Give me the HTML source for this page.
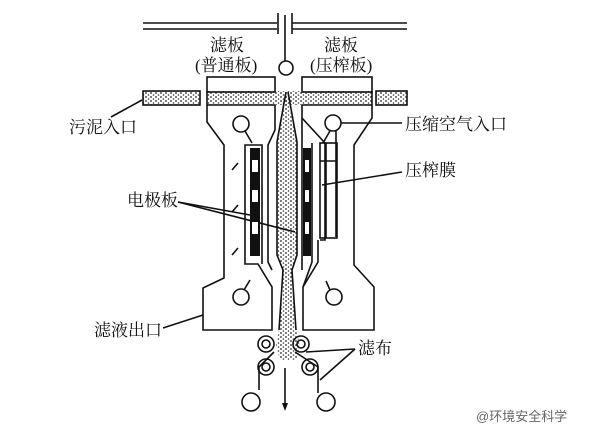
<!DOCTYPE html><html><head><meta charset="utf-8"><style>
body{margin:0;background:#fff}
svg{display:block}
text{font-family:"Liberation Serif","Noto Serif CJK SC",serif;font-size:17px;fill:#111}
</style></head><body>
<svg width="600" height="436" viewBox="0 0 600 436" xmlns="http://www.w3.org/2000/svg">
<defs>
<pattern id="dots" width="5" height="4" patternUnits="userSpaceOnUse">
<circle cx="1" cy="1" r="0.9" fill="#222"/><circle cx="3.5" cy="3" r="0.8" fill="#333"/>
</pattern>
</defs>
<g stroke="#111" stroke-width="1.6" fill="none">
<line x1="143" y1="23" x2="277" y2="23"/><line x1="143" y1="29" x2="277" y2="29"/>
<line x1="292" y1="23" x2="407" y2="23"/><line x1="292" y1="29" x2="407" y2="29"/>
<line x1="278" y1="13" x2="278" y2="34"/><line x1="292" y1="13" x2="292" y2="34"/>
<line x1="285" y1="15" x2="285" y2="61"/>
<circle cx="286" cy="68" r="7"/>
<rect x="207" y="77" width="68" height="15"/>
<rect x="302" y="77" width="70" height="15"/>
<rect x="143" y="91" width="57" height="14" fill="url(#dots)"/>
<rect x="376" y="91" width="31" height="14" fill="url(#dots)"/>
<rect x="207" y="91" width="165" height="14" fill="url(#dots)" stroke="none"/>
<line x1="207" y1="91" x2="207" y2="105"/><line x1="372" y1="91" x2="372" y2="105"/>
<path d="M286 92 L277 142 L277 255 L283 270 L279 330 L276 345 L280 360 L297 360 L300 345 L296 330 L292 270 L297 255 L297 142 Z" fill="url(#dots)" stroke="none"/>
<path d="M286 92 L277 142 L277 255 L283 270 L279 330" />
<path d="M288 92 L297 142 L297 255 L292 270 L296 330" />
<path d="M207 105 L207 122 L224 145 L224 278 L203 288 L203 330 L272 330 L272 287 L258 264 L245 264 L245 145 L262 145 L262 264"/>
<path d="M275 105 L275 130 L268 145 L268 262 L272 270"/>
<line x1="207" y1="105" x2="275" y2="105"/>
<circle cx="241" cy="124" r="8"/><line x1="245" y1="131" x2="252" y2="143"/>
<circle cx="241" cy="297" r="8"/><line x1="244" y1="290" x2="250" y2="280"/>
<line x1="232" y1="170" x2="238" y2="163"/><line x1="232" y1="212" x2="238" y2="205"/><line x1="232" y1="255" x2="238" y2="248"/>
<line x1="302" y1="105" x2="372" y2="105"/>
<path d="M302 105 L302 118 L325 143 L325 240 L320 240"/>
<path d="M372 105 L372 118 L354 145 L354 265 L374 287 L374 330 L303 330 L303 287 L318 262 L318 240"/>
<path d="M302 118 L302 270"/>
<path d="M312 143 L312 262 L303 287"/>
<rect x="320" y="143" width="17" height="95"/>
<line x1="326" y1="143" x2="326" y2="238"/><line x1="320" y1="161" x2="337" y2="161"/>
<circle cx="333" cy="123" r="8"/><line x1="330" y1="131" x2="323" y2="143"/><line x1="336" y1="131" x2="336" y2="237"/>
<circle cx="334" cy="297" r="8"/><line x1="330" y1="290" x2="326" y2="281"/>
<circle cx="266" cy="344" r="8"/><circle cx="266" cy="344" r="4"/>
<circle cx="301" cy="344" r="8"/><circle cx="301" cy="344" r="4"/>
<circle cx="266" cy="367" r="8"/><circle cx="266" cy="367" r="4"/>
<circle cx="310" cy="367" r="8"/><circle cx="310" cy="367" r="4"/>
<path d="M274 352 L259 367 L259 390"/><path d="M295 352 L318 367 L318 393"/>
<circle cx="251" cy="402" r="9"/><circle cx="326" cy="402" r="9"/>
<line x1="285" y1="368" x2="285" y2="405"/>
<line x1="111" y1="117" x2="142" y2="100"/>
<line x1="341" y1="123" x2="402" y2="123"/>
<line x1="322" y1="185" x2="402" y2="172"/>
<line x1="178" y1="202" x2="250" y2="215"/><line x1="178" y1="202" x2="295" y2="232"/>
<line x1="163" y1="328" x2="203" y2="315"/>
<line x1="306" y1="352" x2="355" y2="349"/><line x1="320" y1="380" x2="355" y2="349"/>
</g>
<path d="M285 411 L282 403 L288 403 Z" fill="#111"/>
<g fill="#111">
<rect x="250" y="148" width="10" height="108"/>
<rect x="303" y="148" width="8" height="108"/>
</g>
<g fill="#fff">
<rect x="252" y="160" width="6" height="12"/><rect x="252" y="190" width="6" height="12"/><rect x="252" y="222" width="6" height="12"/>
<rect x="305" y="160" width="4" height="12"/><rect x="305" y="190" width="4" height="12"/><rect x="305" y="222" width="4" height="12"/>
</g>
<text x="210" y="51">滤板</text><text x="195" y="71">(普通板)</text>
<text x="324" y="51">滤板</text><text x="310" y="71">(压榨板)</text>
<text x="69" y="133">污泥入口</text>
<text x="405" y="130">压缩空气入口</text>
<text x="405" y="176">压榨膜</text>
<text x="127" y="206">电极板</text>
<text x="94" y="336">滤液出口</text>
<text x="358" y="354">滤布</text>
<text x="476" y="421" style="font-family:'Liberation Sans','Noto Sans CJK SC',sans-serif;font-size:13px;fill:#666">@环境安全科学</text>
</svg>
</body></html>
